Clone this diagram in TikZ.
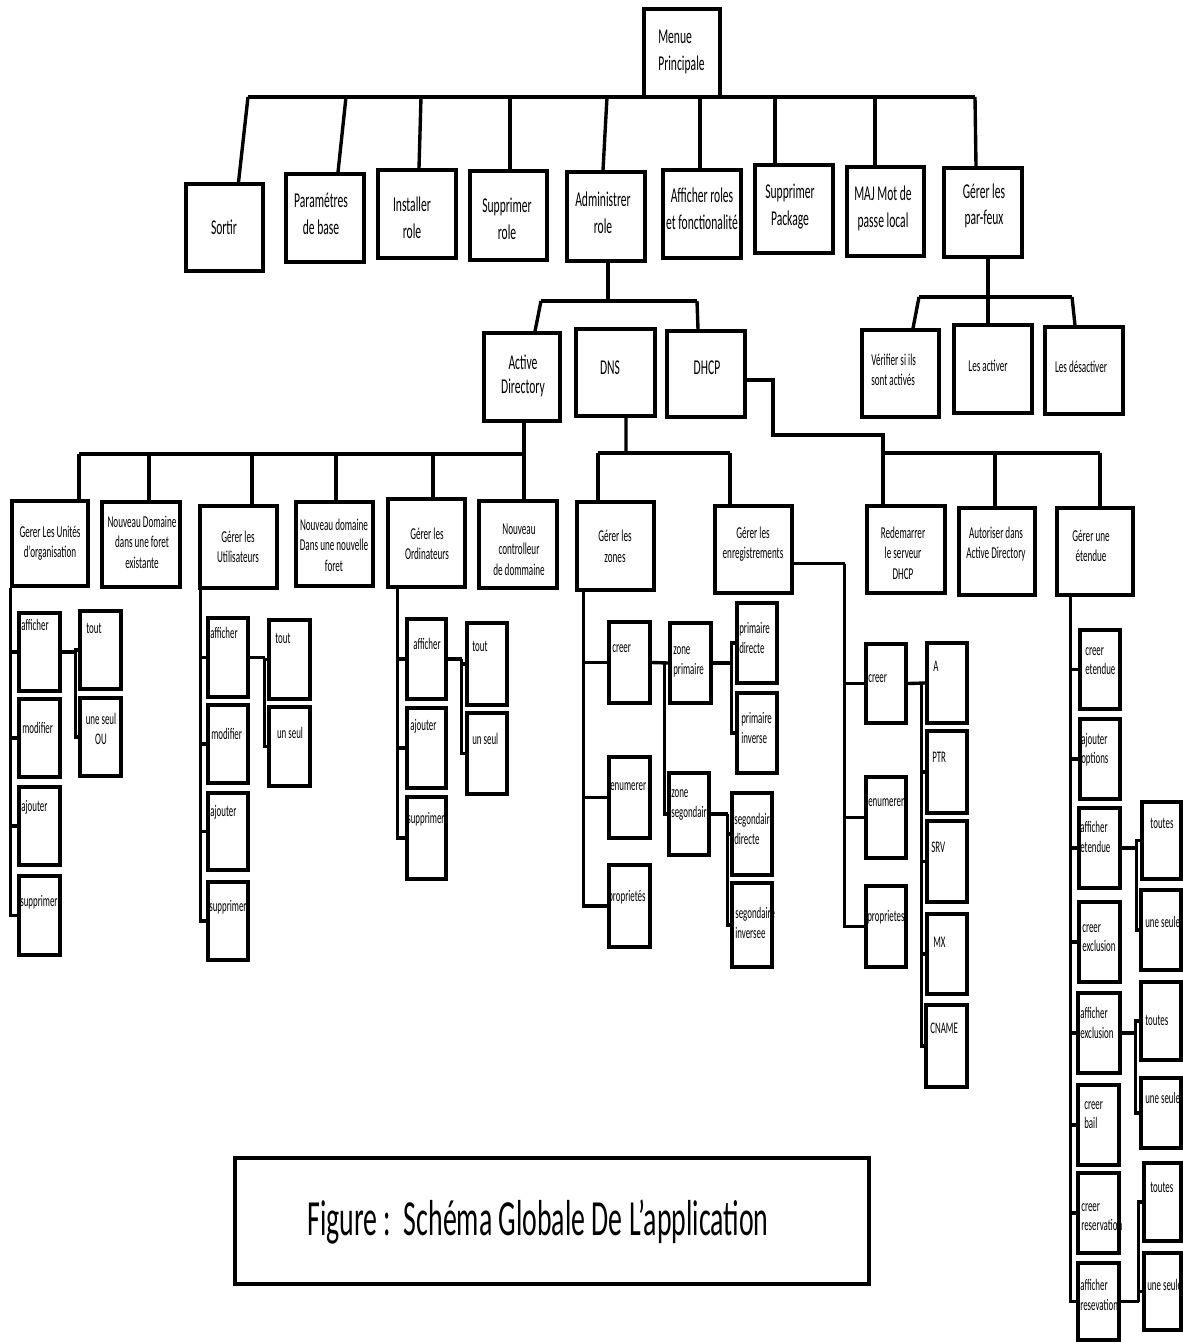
\documentclass[tikz,border=0pt]{standalone}
\usepackage{fontspec}
\setmainfont{Carlito}[FakeStretch=0.55]
\usetikzlibrary{fit,calc}
\newcommand{\mybox}[5]{\node[bx, fit={(#2,#3) (#4,#5)}] (#1) {};}
\begin{document}
\begin{tikzpicture}[x=0.025cm,y=-0.025cm,
  bx/.style={draw, line width=2.5pt, inner sep=0pt},
  ln/.style={line width=2.4pt},
  tA/.style={font=\fontsize{15}{19}\selectfont, align=center, inner sep=0pt},
  tA2/.style={font=\fontsize{15}{17.5}\selectfont, align=center, inner sep=0pt},
  tB/.style={font=\fontsize{11.8}{14.6}\selectfont, align=center, inner sep=0pt},
  tC/.style={font=\fontsize{11.5}{13.8}\selectfont, align=left, anchor=west, inner sep=0pt},
  captxt/.style={font=\fontsize{36}{40}\selectfont, inner sep=0pt}]
\useasboundingbox (0,0) rectangle (1183,1342);
\fill[white] (0,0) rectangle (1183,1342);

% ---------------- top level ----------------
\mybox{menu}{644}{9}{720}{97}
\mybox{sortir}{186}{184}{263}{271}
\mybox{param}{286}{174}{364}{262}
\mybox{install}{378}{170}{456}{258}
\mybox{supprole}{470}{171}{547}{260}
\mybox{admin}{567}{172}{645}{261}
\mybox{affroles}{663}{170}{741}{258}
\mybox{supppkg}{755}{165}{833}{253}
\mybox{maj}{847}{167}{924}{256}
\mybox{parfeux}{944}{168}{1022}{257}

\node[tA, align=left, anchor=west] (menu-t) at (658,52) {Menue\\Principale};
\node[tA] (sortir-t) at (224,227) {Sortir};
\node[tA] (param-t) at (321,214) {Paramétres\\de base};
\node[tA] (install-t) at (412,218) {Installer\\role};
\node[tA] (supprole-t) at (507,219) {Supprimer\\role};
\node[tA] (admin-t) at (603,213) {Administrer\\role};
\node[tA] (affroles-t) at (702,208.5) {Afficher roles\\et fonctionalité};
\node[tA] (supppkg-t) at (790,206.5) {Supprimer\\Package};
\node[tA] (maj-t) at (883,208.5) {MAJ Mot de\\passe local};
\node[tA] (parfeux-t) at (984,206) {Gérer les\\par-feux};

\coordinate (tb1) at (248,97);
\coordinate (tb2) at (346,97);
\coordinate (tb3) at (421,97);
\coordinate (tb4) at (510,97);
\coordinate (tb5) at (607,97);
\coordinate (tb6) at (700,97);
\coordinate (tb7) at (775,97);
\coordinate (tb8) at (875,97);
\coordinate (tb9) at (975,97);
\draw[ln] (tb1) -- (tb9);
\draw[ln] (tb1) -- ($(sortir.north)+(14,0)$);
\draw[ln] (tb2) -- ($(param.north)+(13,0)$);
\draw[ln] (tb3) -- ($(install.north)+(2,0)$);
\draw[ln] (tb4) -- (tb4 |- supprole.north);
\draw[ln] (tb5) -- ($(admin.north)+(-3,0)$);
\draw[ln] (tb6) -- (tb6 |- affroles.north);
\draw[ln] (tb7) -- (tb7 |- supppkg.north);
\draw[ln] (tb8) -- (tb8 |- maj.north);
\draw[ln] (tb9) -- ($(parfeux.north)+(-7,0)$);

% ---------------- Administrer role children ----------------
\mybox{ad}{484}{333}{560}{421}
\mybox{dns}{576}{329}{655}{416}
\mybox{dhcp}{667}{331}{745}{417}
\node[tA2] (ad-t) at (523,376) {Active\\Directory};
\node[tA] (dns-t) at (610,368) {DNS};
\node[tA] (dhcp-t) at (707,368) {DHCP};

\coordinate (ab1) at (541,301);
\coordinate (ab2) at (608,301);
\coordinate (ab3) at (697,301);
\draw[ln] ($(admin.south)+(2,0)$) -- (ab2);
\draw[ln] (ab1) -- (ab3);
\draw[ln] (ab1) -- ($(ad.north)+(13,0)$);
\draw[ln] (ab3) -- ($(dhcp.north)+(-8,0)$);

% ---------------- par-feux children ----------------
\mybox{verif}{862}{330}{939}{417}
\mybox{activ}{954}{325}{1032}{413}
\mybox{desact}{1045}{327}{1123}{414}
\node[tB, align=left, anchor=west] (verif-t) at (871,370) {Vérifier si ils\\sont activés};
\node[tB] (activ-t) at (988,366) {Les activer};
\node[tB] (desact-t) at (1081,367) {Les désactiver};

\coordinate (pb1) at (919,297);
\coordinate (pb2) at (988,297);
\coordinate (pb3) at (1072,297);
\draw[ln] ($(parfeux.south)+(5,0)$) -- (pb2 |- activ.north);
\draw[ln] (pb1) -- (pb3);
\draw[ln] (pb1) -- ($(verif.north)+(12.5,0)$);
\draw[ln] (pb3) -- ($(desact.north)+(-9,0)$);

% ---------------- Active Directory children ----------------
\mybox{gu}{12}{501}{88}{586}
\mybox{nd1}{102}{502}{180}{587}
\mybox{gut}{200}{506}{277}{588}
\mybox{nd2}{296}{502}{373}{586}
\mybox{go}{388}{499}{465}{587}
\mybox{nc}{479}{501}{557}{588}
\node[tB] (gu-t) at (50,543) {Gerer Les Unités\\d'organisation};
\node[tB] (nd1-t) at (142,542) {Nouveau Domaine\\dans une foret\\existante};
\node[tB] (gut-t) at (238,547) {Gérer les\\Utilisateurs};
\node[tB] (nd2-t) at (334,545) {Nouveau domaine\\Dans une nouvelle\\foret};
\node[tB] (go-t) at (427,544) {Gérer les\\Ordinateurs};
\node[tB] (nc-t) at (519,549.5) {Nouveau\\controlleur\\de dommaine};

\coordinate (db1) at (79,454);
\coordinate (db2) at (149,454);
\coordinate (db3) at (252,454);
\coordinate (db4) at (336,454);
\coordinate (db5) at (433,454);
\coordinate (db6) at (524,454);
\draw[ln] ($(ad.south)+(2,0)$) -- (db6);
\draw[ln] (db1) -- (db6);
\draw[ln] (db1) -- (db1 |- gu.north);
\draw[ln] (db2) -- (db2 |- nd1.north);
\draw[ln] (db3) -- (db3 |- gut.north);
\draw[ln] (db4) -- (db4 |- nd2.north);
\draw[ln] (db5) -- (db5 |- go.north);
\draw[ln] (db6) -- (db6 |- nc.north);

% Gerer Les Unites d'organisation
\mybox{gu-aff}{19}{613}{60}{691}
\mybox{gu-mod}{19}{699}{60}{777}
\mybox{gu-aj}{19}{787}{60}{865}
\mybox{gu-sup}{19}{876}{60}{955}
\mybox{gu-tout}{80}{611}{121}{689}
\mybox{gu-une}{80}{698}{121}{776}
\node[tC] (gu-aff-t) at (21,625) {afficher};
\node[tC] (gu-mod-t) at (22,728) {modifier};
\node[tC] (gu-aj-t) at (21,807) {ajouter};
\node[tC] (gu-sup-t) at (20,902) {supprimer};
\node[tC] (gu-tout-t) at (86,628) {tout};
\node[tC, align=center, anchor=center] (gu-une-t) at (101,729) {une seul\\OU};
\coordinate (gu-tr) at (gu.south west);
\draw[ln] (gu-tr) |- (gu-aff.west);
\draw[ln] (gu-tr) |- (gu-mod.west);
\draw[ln] (gu-tr) |- (gu-aj.west);
\draw[ln] (gu-tr) |- (gu-sup.west);
\draw[ln] (gu-aff.east) -- ++(14,0) coordinate (gu-j);
\draw[ln] (gu-j) |- (gu-tout.west);
\draw[ln] (gu-j) |- (gu-une.west);

% Gerer les Utilisateurs
\mybox{gut-aff}{208}{618}{248}{697}
\mybox{gut-mod}{208}{705}{248}{783}
\mybox{gut-aj}{208}{793}{248}{870}
\mybox{gut-sup}{208}{882}{248}{960}
\mybox{gut-tout}{269}{620}{310}{699}
\mybox{gut-un}{269}{707}{310}{786}
\node[tC] (gut-aff-t) at (210,633) {afficher};
\node[tC] (gut-mod-t) at (211,734) {modifier};
\node[tC] (gut-aj-t) at (210,812) {ajouter};
\node[tC] (gut-sup-t) at (209,907) {supprimer};
\node[tC] (gut-tout-t) at (275,638) {tout};
\node[tC, anchor=center] (gut-un-t) at (290,733) {un seul};
\coordinate (gut-tr) at ($(gut.south west)+(2,0)$);
\draw[ln] (gut-tr) |- (gut-aff.west);
\draw[ln] (gut-tr) |- (gut-mod.west);
\draw[ln] (gut-tr) |- (gut-aj.west);
\draw[ln] (gut-tr) |- (gut-sup.west);
\draw[ln] (gut-aff.east) -- ++(15,0) coordinate (gut-j);
\draw[ln] (gut-j) |- (gut-tout.west);
\draw[ln] (gut-j) |- (gut-un.west);

% Gerer les Ordinateurs
\mybox{go-aff}{407}{619}{446}{699}
\mybox{go-aj}{407}{708}{446}{788}
\mybox{go-sup}{407}{797}{446}{879}
\mybox{go-tout}{467}{623}{507}{705}
\mybox{go-un}{467}{713}{507}{794}
\node[tC, anchor=center] (go-aff-t) at (427,644) {afficher};
\node[tC] (go-aj-t) at (410,726) {ajouter};
\node[tC] (go-sup-t) at (407,819) {supprimer};
\node[tC] (go-tout-t) at (472,646) {tout};
\node[tC] (go-un-t) at (472,739) {un seul};
\coordinate (go-tr) at ($(go.south west)+(11,0)$);
\draw[ln] (go-tr) |- (go-aff.west);
\draw[ln] (go-tr) |- (go-aj.west);
\draw[ln] (go-tr) |- (go-sup.west);
\draw[ln] (go-aff.east) -- ++(14,0) coordinate (go-j);
\draw[ln] (go-j) |- (go-tout.west);
\draw[ln] (go-j) |- (go-un.west);

% ---------------- DNS children ----------------
\mybox{gz}{577}{502}{654}{590}
\mybox{ge}{715}{506}{792}{593}
\node[tB] (gz-t) at (615,546.5) {Gérer les\\zones};
\node[tB] (ge-t) at (753,544) {Gérer les\\enregistrements};
\coordinate (nb1) at (598,453);
\coordinate (nb2) at (626,453);
\coordinate (nb3) at (730,453);
\draw[ln] ($(dns.south)+(10.5,0)$) -- (nb2);
\draw[ln] (nb1) -- (nb3);
\draw[ln] (nb1) -- (nb1 |- gz.north);
\draw[ln] (nb3) -- (nb3 |- ge.north);

% Gerer les zones
\mybox{gz-cr}{609}{622}{650}{703}
\mybox{gz-en}{609}{757}{650}{838}
\mybox{gz-pr}{609}{865}{650}{947}
\mybox{zp}{670}{623}{711}{703}
\mybox{zs}{669}{773}{709}{855}
\mybox{pd}{737}{603}{777}{683}
\mybox{pi}{737}{693}{777}{773}
\mybox{sd}{732}{793}{772}{875}
\mybox{si}{732}{883}{772}{967}
\node[tC] (gz-cr-t) at (612,649) {creer};
\node[tC] (gz-en-t) at (610,787) {enumerer};
\node[tC] (gz-pr-t) at (608,897) {proprietés};
\node[tC] (zp-t) at (673,662) {zone\\primaire};
\node[tC] (zs-t) at (671,805) {zone\\segondaire};
\node[tC] (pd-t) at (739,638) {primaire\\directe};
\node[tC] (pi-t) at (741,728) {primaire\\inverse};
\node[tC] (sd-t) at (734,829) {segondaire\\directe};
\node[tC] (si-t) at (735,923) {segondaire\\inversee};
\coordinate (gz-tr) at ($(gz.south west)+(8,0)$);
\draw[ln] (gz-tr) |- (gz-cr.west);
\draw[ln] (gz-tr) |- (gz-en.west);
\draw[ln] (gz-tr) |- (gz-pr.west);
\draw[ln] (gz-cr.east) -- (zp.west);
\draw[ln] ($(gz-cr.east)+(13,0)$) coordinate (gz-j) |- (zs.west);
\draw[ln] (zp.east) -- ++(19,0) coordinate (zp-j);
\draw[ln] (zp-j) |- (pd.west);
\draw[ln] (zp-j) |- (pi.west);
\draw[ln] (zs.east) -- ++(17,0) coordinate (zs-j);
\draw[ln] (zs-j) |- (sd.west);
\draw[ln] (zs-j) |- (si.west);

% Gerer les enregistrements
\mybox{ge-cr}{866}{644}{906}{723}
\mybox{ge-en}{866}{777}{906}{858}
\mybox{ge-pr}{866}{886}{906}{967}
\mybox{ra}{927}{643}{967}{723}
\mybox{rptr}{927}{731}{967}{813}
\mybox{rsrv}{927}{821}{967}{902}
\mybox{rmx}{927}{914}{967}{994}
\mybox{rcname}{926}{1005}{967}{1087}
\node[tC] (ge-cr-t) at (868,679) {creer};
\node[tC] (ge-en-t) at (868,803) {enumerer};
\node[tC] (ge-pr-t) at (867,917) {proprietes};
\node[tC] (ra-t) at (933,666) {A};
\node[tC] (rptr-t) at (932,757) {PTR};
\node[tC] (rsrv-t) at (931,847) {SRV};
\node[tC] (rmx-t) at (933,942) {MX};
\node[tC] (rcname-t) at (930,1028) {CNAME};
\draw[ln] ($(ge.east)+(0,14)$) -- ++(51,0) coordinate (ge-j);
\draw[ln] (ge-j) |- (ge-cr.west);
\draw[ln] (ge-j) |- (ge-en.west);
\draw[ln] (ge-j) |- (ge-pr.west);
\draw[ln] (ge-cr.east) -- (ra.west);
\coordinate (ge-cr-j) at ($(ge-cr.east)+(14,0)$);
\draw[ln] (ge-cr-j) |- (rptr.west);
\draw[ln] (ge-cr-j) |- (rsrv.west);
\draw[ln] (ge-cr-j) |- (rmx.west);
\draw[ln] (ge-cr-j) |- (rcname.west);

% ---------------- DHCP children ----------------
\mybox{red}{867}{506}{945}{593}
\mybox{aut}{959}{508}{1035}{595}
\mybox{get}{1057}{508}{1133}{595}
\node[tB] (red-t) at (903,553) {Redemarrer\\le serveur\\DHCP};
\node[tB] (aut-t) at (996,544) {Autoriser dans\\Active Directory};
\node[tB] (get-t) at (1091,546) {Gérer une\\étendue};
\coordinate (hj1) at (773,435);
\coordinate (hj2) at (883,435);
\coordinate (hb1) at (883,453);
\coordinate (hb2) at (995,453);
\coordinate (hb3) at (1100,453);
\draw[ln] ($(dhcp.east)+(0,6)$) -| (hj1) -- (hj2) -- (hj2 |- red.north);
\draw[ln] (hb1) -- (hb3);
\draw[ln] (hb2) -- (hb2 |- aut.north);
\draw[ln] (hb3) -- (hb3 |- get.north);

% Gerer une etendue
\mybox{e1}{1080}{630}{1120}{709}
\mybox{e2}{1080}{719}{1120}{799}
\mybox{e3}{1079}{808}{1120}{888}
\mybox{e4}{1079}{902}{1120}{982}
\mybox{e5}{1078}{993}{1120}{1073}
\mybox{e6}{1078}{1085}{1119}{1165}
\mybox{e7}{1078}{1173}{1119}{1253}
\mybox{e8}{1078}{1263}{1119}{1340}
\mybox{r1}{1142}{802}{1181}{879}
\mybox{r2}{1141}{890}{1181}{970}
\mybox{r3}{1141}{982}{1181}{1060}
\mybox{r4}{1141}{1078}{1181}{1148}
\mybox{r5}{1144}{1163}{1181}{1241}
\mybox{r6}{1144}{1253}{1181}{1330}
\node[tC] (e1-t) at (1085,661) {creer\\etendue};
\node[tC] (e2-t) at (1081,750) {ajouter\\options};
\node[tC] (e3-t) at (1080,837) {afficher\\etendue};
\node[tC] (e4-t) at (1082,938) {creer\\exclusion};
\node[tC] (e5-t) at (1080,1023) {afficher\\exclusion};
\node[tC] (e6-t) at (1084,1115) {creer\\bail};
\node[tC] (e7-t) at (1081,1217) {creer\\reservation};
\node[tC] (e8-t) at (1080,1295) {afficher\\resevation};
\node[tC, anchor=center] (r1-t) at (1162,823) {toutes};
\node[tC] (r2-t) at (1145,922) {une seule};
\node[tC] (r3-t) at (1145,1020) {toutes};
\node[tC] (r4-t) at (1145,1098) {une seule};
\node[tC] (r5-t) at (1150,1187) {toutes};
\node[tC] (r6-t) at (1147,1285) {une seule};
\coordinate (get-tr) at ($(get.south west)+(15,0)$);
\foreach \e in {e1,e2,e3,e4,e5,e6,e7,e8} {\draw[ln] (get-tr) |- (\e.west);}
\draw[ln] (e3.east) -- ++(15,0) coordinate (e3-j);
\draw[ln] (e3-j) |- (r1.west);
\draw[ln] (e3-j) |- (r2.west);
\draw[ln] (e5.east) -- ++(14,0) coordinate (e5-j);
\draw[ln] (e5-j) |- (r3.west);
\draw[ln] (e5-j) |- (r4.west);
\draw[ln] (e8.east) -- ++(18,0) coordinate (e8-j);
\draw[ln] (e8-j) |- (r5.west);
\draw[ln] (e8-j) |- (r6.west);

% ---------------- caption ----------------
\mybox{capbox}{235}{1158}{869}{1284}
\node[captxt] (cap-t) at (538,1222) {Figure :\ \ Schéma Globale De L'application};
\end{tikzpicture}
\end{document}
